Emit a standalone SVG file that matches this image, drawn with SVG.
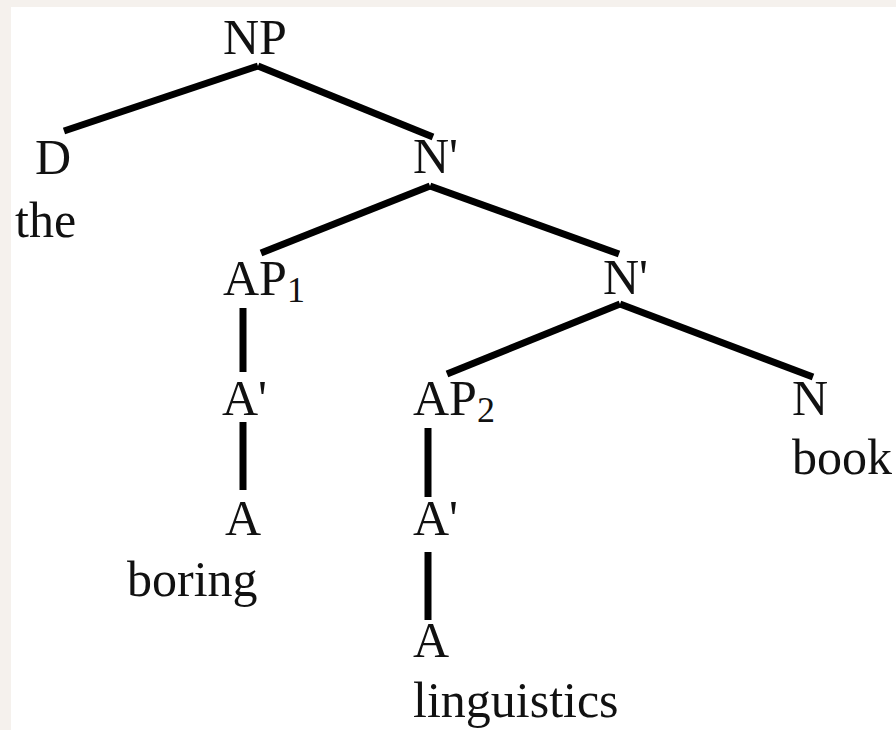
<svg xmlns="http://www.w3.org/2000/svg" width="896" height="730" viewBox="0 0 896 730">
<style>
  .lbl { font-family: "Liberation Serif", "Times New Roman", serif; font-size: 50px; fill: #111; }
  .sub { font-size: 36px; }
  .edge { stroke: #000; stroke-width: 7; fill: none; stroke-linecap: butt; }
</style>
<rect x="0" y="0" width="896" height="730" fill="#f5f1ed"/>
<rect x="11" y="7" width="885" height="723" fill="#ffffff"/>
<g id="connectors">
  <line class="edge" x1="258" y1="66" x2="64" y2="131"/>
  <line class="edge" x1="258" y1="66" x2="433" y2="137"/>
  <line class="edge" x1="430" y1="186" x2="261" y2="253"/>
  <line class="edge" x1="430" y1="186" x2="619" y2="254"/>
  <line class="edge" x1="620" y1="304" x2="447" y2="374"/>
  <line class="edge" x1="620" y1="304" x2="813" y2="377"/>
  <line class="edge" x1="243" y1="308" x2="243" y2="372"/>
  <line class="edge" x1="243" y1="422" x2="243" y2="490"/>
  <line class="edge" x1="428" y1="428" x2="428" y2="497"/>
  <line class="edge" x1="428" y1="552" x2="428" y2="620"/>
</g>
<g id="NP"><text class="lbl" x="223" y="54">NP</text></g>
<g id="D"><text class="lbl" x="35" y="174">D</text><text class="lbl" x="15" y="237">the</text></g>
<g id="Nbar1"><text class="lbl" x="413" y="173">N'</text></g>
<g id="AP1"><text class="lbl" x="223" y="295">AP<tspan class="sub" dy="7">1</tspan></text></g>
<g id="Nbar2"><text class="lbl" x="603" y="294">N'</text></g>
<g id="Abar1"><text class="lbl" x="222" y="415">A'</text></g>
<g id="A1"><text class="lbl" x="225" y="535">A</text><text class="lbl" x="127" y="596">boring</text></g>
<g id="AP2"><text class="lbl" x="413" y="415">AP<tspan class="sub" dy="7">2</tspan></text></g>
<g id="Abar2"><text class="lbl" x="413" y="535">A'</text></g>
<g id="A2"><text class="lbl" x="413" y="657">A</text><text class="lbl" x="413" y="717">linguistics</text></g>
<g id="N"><text class="lbl" x="792" y="415">N</text><text class="lbl" x="792" y="474">book</text></g>
</svg>
